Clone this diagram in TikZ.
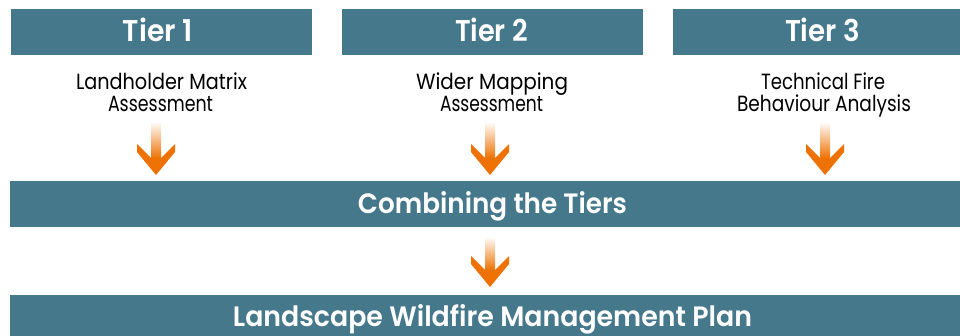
\documentclass[tikz,border=0pt]{standalone}
\usepackage{fontspec}
\usepackage{graphicx}
\setmainfont{Poppins}[BoldFont={Poppins SemiBold}]
\usetikzlibrary{calc}
\definecolor{tierblue}{RGB}{70,120,139}
\definecolor{arroworange}{RGB}{238,114,3}
\tikzset{
  bluebox/.style={fill=tierblue, draw=none, inner sep=0pt, outer sep=0pt},
  headtext/.style={text=white, inner sep=0pt, anchor=base, font=\fontsize{30}{30}\selectfont\bfseries},
  bandtext/.style={text=white, inner sep=0pt, anchor=base, font=\fontsize{28}{28}\selectfont\bfseries},
  desctext/.style={text=black, inner sep=0pt, anchor=base, font=\fontsize{22}{22}\selectfont},
}
\newcommand\blockarrow[2]{%
  \shade[top color=arroworange!4, bottom color=arroworange] ($(#1)+(-5,0)$) rectangle ($(#2)+(5,-17)$);
  \fill[arroworange] ($(#2)+(-19,-31)$) -- ($(#2)+(-5,-17)$) -- ($(#2)+(5,-17)$) -- ($(#2)+(19,-31)$) -- ($(#2)+(19,-23)$) -- (#2) -- ($(#2)+(-19,-23)$) -- cycle;
}
\begin{document}
\begin{tikzpicture}[x=1pt,y=-1pt]
\useasboundingbox (0,0) rectangle (960,336);
% boxes
\node[bluebox, anchor=north west, minimum width=301pt, minimum height=45.7pt] (tier1) at (11,9) {};
\node[bluebox, anchor=north west, minimum width=301pt, minimum height=45.7pt] (tier2) at (342,9) {};
\node[bluebox, anchor=north west, minimum width=287pt, minimum height=45.7pt] (tier3) at (673,9) {};
\node[bluebox, anchor=north west, minimum width=950pt, minimum height=45.7pt] (combine) at (10,181) {};
\node[bluebox, anchor=north west, minimum width=950pt, minimum height=41pt] (plan) at (10,295) {};
% header texts
\node[headtext] (tier1l) at (158,42) {\resizebox{70pt}{\height}{Tier 1}};
\node[headtext] (tier2l) at (491.5,42) {\resizebox{73pt}{\height}{Tier 2}};
\node[headtext] (tier3l) at (822.5,42) {\resizebox{75pt}{\height}{Tier 3}};
% descriptions
\node[desctext] (d1a) at (161.5,89.5) {\resizebox{171pt}{\height}{Landholder Matrix}};
\node[desctext] (d1b) at (160.5,112) {\resizebox{105pt}{\height}{Assessment}};
\node[desctext] (d2a) at (492,89.5) {\resizebox{152pt}{\height}{Wider Mapping}};
\node[desctext] (d2b) at (491.5,112) {\resizebox{103pt}{\height}{Assessment}};
\node[desctext] (d3a) at (823,89.5) {\resizebox{124pt}{\height}{Technical Fire}};
\node[desctext] (d3b) at (824,112) {\resizebox{174pt}{\height}{Behaviour Analysis}};
% band texts
\node[bandtext] (combinel) at (492.5,214) {\resizebox{269pt}{\height}{Combining the Tiers}};
\node[bandtext] (planl) at (492.5,326.5) {\resizebox{519pt}{\height}{Landscape Wildfire Management Plan}};
% arrows
\coordinate (a1s) at (156,123); \coordinate (a1e) at (156,175);
\coordinate (a2s) at (490,123); \coordinate (a2e) at (490,175);
\coordinate (a3s) at (825,123); \coordinate (a3e) at (825,175);
\coordinate (a4s) at (490,238); \coordinate (a4e) at (490,287);
\blockarrow{a1s}{a1e}
\blockarrow{a2s}{a2e}
\blockarrow{a3s}{a3e}
\blockarrow{a4s}{a4e}
\end{tikzpicture}
\end{document}
